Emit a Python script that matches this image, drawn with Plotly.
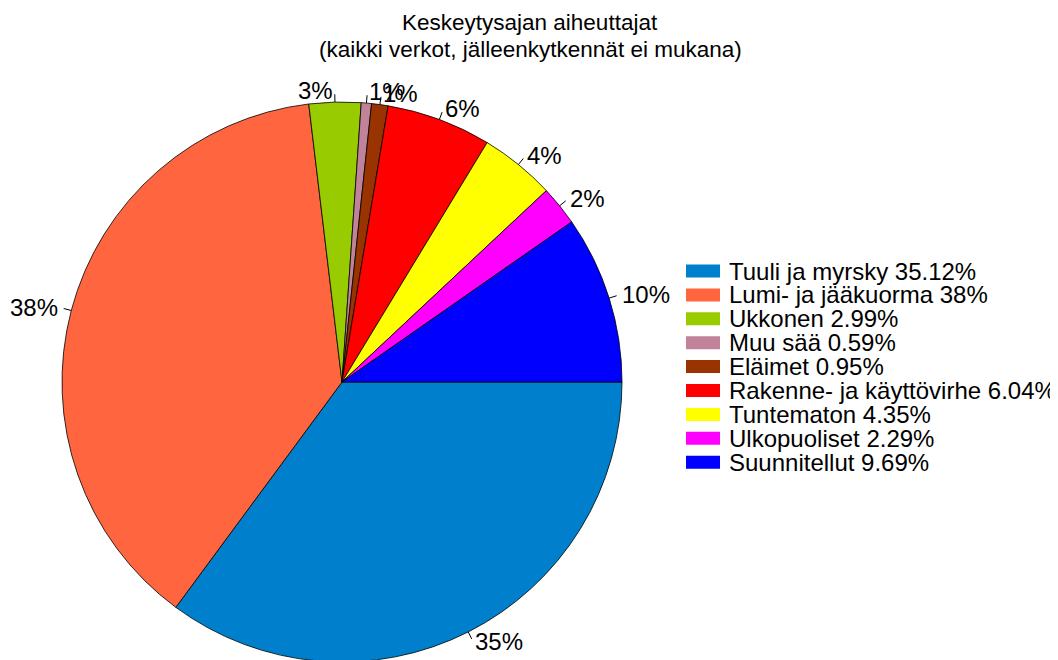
import math
import plotly.graph_objects as go

# ---- data ----
categories = ["Tuuli ja myrsky", "Lumi- ja jääkuorma", "Ukkonen", "Muu sää", "Eläimet",
              "Rakenne- ja käyttövirhe", "Tuntematon", "Ulkopuoliset", "Suunnitellut"]
shares = [35.12, 38, 2.99, 0.59, 0.95, 6.04, 4.35, 2.29, 9.69]
colors = ["#0080CC", "#FF6640", "#99CC00", "#C08399", "#993300",
          "#FF0000", "#FFFF00", "#FF00FF", "#0000FF"]
title_lines = ["Keskeytysajan aiheuttajat", "(kaikki verkot, jälleenkytkennät ei mukana)"]

legend_labels = [f"{c} {v:g}%" for c, v in zip(categories, shares)]
slice_labels = [f"{round(v)}%" for v in shares]

# ---- layout geometry (screen pixels; page body has an 8px offset) ----
W, H = 1058, 660
OFF = 8
CX, CY, R = 342, 382, 280
FONT = "Liberation Sans, Arial, sans-serif"


def xp(x):
    return (x - OFF) / W


def yp(y):
    return 1 - (y - OFF) / H


fig = go.Figure(go.Pie(
    labels=legend_labels,
    values=shares,
    sort=False,
    direction="clockwise",
    rotation=90,
    marker=dict(colors=colors, line=dict(color="black", width=0.8)),
    textinfo="none",
    hoverinfo="skip",
    showlegend=False,
    domain=dict(x=[xp(CX - R), xp(CX + R)], y=[max(0.0, yp(CY + R)), min(1.0, yp(CY - R))]),
))

# outside labels with short tick lines, positioned from the data angles
total = sum(shares)
cum = 0.0
shapes, annotations = [], []
for v, lab in zip(shares, slice_labels):
    mid = -(cum + v / 2) / total * 2 * math.pi
    cum += v
    c, s = math.cos(mid), math.sin(mid)
    x0, y0 = CX + R * c, CY - R * s
    x1, y1 = CX + R * 1.028 * c, CY - R * 1.028 * s
    shapes.append(dict(type="line", xref="paper", yref="paper",
                       x0=xp(x0), y0=yp(y0), x1=xp(x1), y1=yp(y1),
                       line=dict(color="black", width=1)))
    tx, ty = CX + R * 1.04 * c, CY - R * 1.04 * s
    annotations.append(dict(x=xp(tx), y=yp(ty), xref="paper", yref="paper",
                            text=lab, showarrow=False,
                            xanchor="left" if c >= 0 else "right", yanchor="middle",
                            font=dict(size=24, color="black", family=FONT)))

# title (two lines)
for line, ycen in zip(title_lines, [23, 49]):
    annotations.append(dict(x=xp(530), y=yp(ycen), xref="paper", yref="paper",
                            text=line, showarrow=False, xanchor="center", yanchor="middle",
                            font=dict(size=22.5, color="black", family=FONT)))

# legend: colour boxes and labels
LEG_X, LEG_Y0, LEG_DY = 686, 271, 23.9
for i, (lab, col) in enumerate(zip(legend_labels, colors)):
    yc = LEG_Y0 + i * LEG_DY
    shapes.append(dict(type="rect", xref="paper", yref="paper",
                       x0=xp(LEG_X), x1=xp(LEG_X + 34), y0=yp(yc - 6.5), y1=yp(yc + 6.5),
                       fillcolor=col, line=dict(width=0)))
    annotations.append(dict(x=xp(LEG_X + 41), y=yp(yc), xref="paper", yref="paper",
                            text=lab, showarrow=False, xanchor="left", yanchor="middle",
                            font=dict(size=24, color="black", family=FONT)))

fig.update_layout(
    width=W, height=H,
    margin=dict(l=0, r=0, t=0, b=0),
    paper_bgcolor="white", plot_bgcolor="white",
    font=dict(family=FONT, color="black"),
    showlegend=False,
    shapes=shapes,
    annotations=annotations,
)

fig.write_html("out.html")
